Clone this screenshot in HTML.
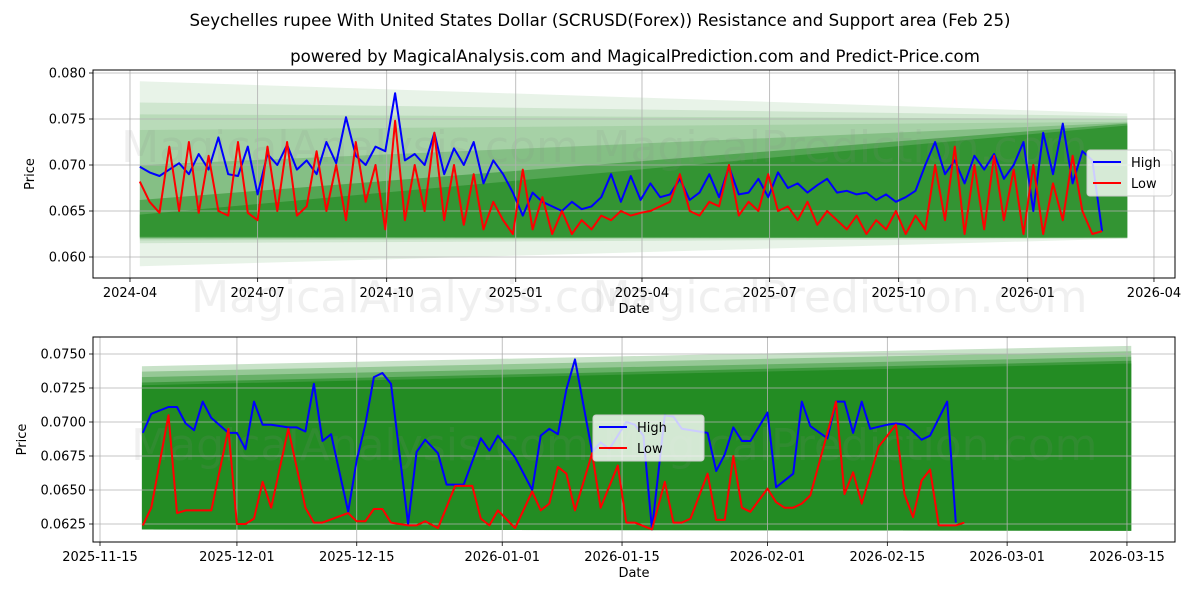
<!DOCTYPE html>
<html><head><meta charset="utf-8"><style>
html,body{margin:0;padding:0;background:#fff;}
svg{display:block;font-family:"DejaVu Sans","Liberation Sans",sans-serif;}
</style></head><body>
<svg id="c" width="1200" height="600" viewBox="0 0 1200 600">
<text x="600" y="26" text-anchor="middle" font-size="16.6">Seychelles rupee With United States Dollar (SCRUSD(Forex)) Resistance and Support area (Feb 25)</text>
<text x="635" y="62" text-anchor="middle" font-size="16.6">powered by MagicalAnalysis.com and MagicalPrediction.com and Predict-Price.com</text>
<g id="top"></g>
<g id="bot"></g>
</svg>
<script>
// ---------- TOP PANEL DATA (weekly samples from 2024-04-08) ----------
const topStartDay = 7; // days after 2024-04-01
const topStepDays = 7;
const topHigh = [0.0698,0.0692,0.0688,0.0695,0.0702,0.0690,0.0712,0.0695,0.0730,0.0690,0.0688,0.0720,0.0668,
0.0712,0.0700,0.0722,0.0695,0.0705,0.0690,0.0725,0.0702,0.0752,0.0710,0.0700,0.0720,0.0715,
0.0778,0.0705,0.0712,0.0700,0.0735,0.0690,0.0718,0.0700,0.0725,0.0680,0.0705,0.0690,0.0670,
0.0645,0.0670,0.0660,0.0655,0.0650,0.0660,0.0652,0.0655,0.0665,0.0690,0.0660,0.0688,0.0662,
0.0680,0.0665,0.0668,0.0685,0.0662,0.0670,0.0690,0.0665,0.0698,0.0668,0.0670,0.0685,0.0665,
0.0692,0.0675,0.0680,0.0670,0.0678,0.0685,0.0670,0.0672,0.0668,0.0670,0.0662,0.0668,0.0660,
0.0665,0.0672,0.0700,0.0725,0.0690,0.0705,0.0680,0.0710,0.0695,0.0712,0.0685,0.0700,0.0725,
0.0650,0.0735,0.0690,0.0745,0.0680,0.0715,0.0705,0.0628];
const topLow = [0.0682,0.0660,0.0648,0.0720,0.0650,0.0725,0.0648,0.0710,0.0650,0.0645,0.0725,0.0648,0.0640,
0.0720,0.0650,0.0725,0.0645,0.0655,0.0715,0.0650,0.0700,0.0640,0.0725,0.0660,0.0700,0.0630,
0.0748,0.0640,0.0700,0.0650,0.0735,0.0640,0.0700,0.0635,0.0690,0.0630,0.0660,0.0640,0.0625,
0.0695,0.0630,0.0665,0.0625,0.0650,0.0625,0.0640,0.0630,0.0645,0.0640,0.0650,0.0645,0.0648,
0.0650,0.0655,0.0660,0.0690,0.0650,0.0645,0.0660,0.0655,0.0700,0.0645,0.0660,0.0650,0.0690,
0.0650,0.0655,0.0640,0.0660,0.0635,0.0650,0.0640,0.0630,0.0645,0.0625,0.0640,0.0630,0.0650,
0.0625,0.0645,0.0630,0.0700,0.0640,0.0720,0.0625,0.0700,0.0630,0.0710,0.0640,0.0695,0.0625,
0.0700,0.0625,0.0680,0.0640,0.0710,0.0650,0.0625,0.0628];
const topBandDays = [7, 711];
const topBandTopStart = [0.0791,0.0768,0.0755,0.0738,0.0700,0.0662,0.0646];
const topBandTopEnd   = [0.0756,0.0753,0.0750,0.0747,0.0746,0.0745,0.0743];
const topBandBotStart = [0.0590,0.0615,0.0618,0.0620,0.0620,0.0621,0.0622];
const topBandBotEnd   = [0.0620,0.0620,0.0621,0.0621,0.0621,0.0621,0.0621];
const topBandAlpha    = [0.1,0.12,0.12,0.12,0.25,0.5,0.65];
const topYTicks = [0.060,0.065,0.070,0.075,0.080];
const topYTickLabels = ["0.060","0.065","0.070","0.075","0.080"];
const topXTicks = [0,91,183,275,365,456,548,640,730];
const topXTickLabels = ["2024-04","2024-07","2024-10","2025-01","2025-04","2025-07","2025-10","2026-01","2026-04"];

// ---------- BOTTOM PANEL DATA (days after 2025-11-15) ----------
const botHighDays = [5,6,8,9,10,11,12,13,15,16,17,18,19,20,22,23,24,25,26,27,29,30,31,32,33,34,36,37,38,39.5,
40.5,42.5,44.5,45.5,46.5,48.5,50.5,51.5,52.5,53.5,54.5,55.5,57.5,58.5,59.5,60.5,61.5,62.5,63.5,64.5,
66,67,68,71,72,73,74,75,76,78,79,81,82,83,85,86,87,88,89,90,92,93,94,95,96,97,99,100];
const botHighVals = [0.0692,0.0706,0.0711,0.0711,0.0699,0.0694,0.0715,0.0703,0.0692,0.0692,0.0680,0.0715,0.0698,0.0698,0.0696,0.0696,0.0693,0.0728,0.0686,0.0691,0.0634,0.0672,0.0698,0.0733,0.0736,0.0728,0.0625,0.0678,0.0687,0.0677,
0.0654,0.0654,0.0688,0.0679,0.0690,0.0674,0.0650,0.0690,0.0695,0.0691,0.0724,0.0746,0.0678,0.0685,0.0680,0.0690,0.0700,0.0698,0.0690,0.0621,
0.0705,0.0704,0.0695,0.0692,0.0664,0.0676,0.0696,0.0686,0.0686,0.0707,0.0652,0.0662,0.0715,0.0697,0.0688,0.0715,0.0715,0.0692,0.0715,0.0695,0.0698,0.0699,0.0698,0.0693,0.0687,0.0690,0.0715,0.0626,0.0680];
const botLowDays = [5,6,8,9,10,13,15,16,17,18,19,20,22,24,25,26,29,30,31,32,33,34,36,37,38,39.5,41.5,43.5,44.5,45.5,
46.5,48.5,50.5,51.5,52.5,53.5,54.5,55.5,57.5,58.5,60.5,61.5,62.5,64.5,
66,67,68,69,71,72,73,74,75,76,78,79,80,81,82,83,86,87,88,89,91,93,94,95,96,97,98,100,101];
const botLowVals = [0.0624,0.0637,0.0705,0.0633,0.0635,0.0635,0.0695,0.0625,0.0625,0.0629,0.0656,0.0637,0.0695,0.0637,0.0626,0.0626,0.0633,0.0627,0.0627,0.0636,0.0636,0.0626,0.0624,0.0624,0.0627,0.0622,0.0653,0.0653,0.0629,0.0624,
0.0635,0.0622,0.0649,0.0635,0.0640,0.0667,0.0662,0.0635,0.0677,0.0637,0.0668,0.0626,0.0626,0.0621,
0.0656,0.0626,0.0626,0.0629,0.0662,0.0628,0.0628,0.0675,0.0637,0.0634,0.0651,0.0641,0.0637,0.0637,0.0640,0.0646,0.0715,0.0647,0.0663,0.0640,0.0682,0.0698,0.0647,0.0630,0.0657,0.0665,0.0624,0.0624,0.0626];
const botBandDays = [4.9, 120.5];
const botBandTopStart = [0.0741,0.0737,0.0733,0.0729,0.0727];
const botBandTopEnd   = [0.0756,0.0752,0.0748,0.0745,0.0743];
const botBandBot = [0.0621, 0.0620];
const botBandAlpha = [0.25,0.3,0.4,0.6,0.95];
const botYTicks = [0.0625,0.0650,0.0675,0.0700,0.0725,0.0750];
const botYTickLabels = ["0.0625","0.0650","0.0675","0.0700","0.0725","0.0750"];
const botXTicks = [0,16,30,47,61,78,92,106,120];
const botXTickLabels = ["2025-11-15","2025-12-01","2025-12-15","2026-01-01","2026-01-15","2026-02-01","2026-02-15","2026-03-01","2026-03-15"];

const NS="http://www.w3.org/2000/svg";
function mk(parent, tag, attrs){const e=document.createElementNS(NS,tag);for(const k in attrs)e.setAttribute(k,attrs[k]);parent.appendChild(e);return e;}

function panel(g, o){
  const {x0,x1,y0,y1,xs,ys}=o;
  o.bands.forEach((b,i)=>{
    const pts=[[xs(b.d0),ys(b.t0)],[xs(b.d1),ys(b.t1)],[xs(b.d1),ys(b.b1)],[xs(b.d0),ys(b.b0)]];
    const p=mk(g,'polygon',{points:pts.map(q=>q.join(',')).join(' '),fill:'#228B22','fill-opacity':b.a});
    
    
  });
  o.marks.forEach(m=>{
    const t=mk(g,'text',{x:m[0],y:m[1],'font-size':m[3],fill:'#888','fill-opacity':0.13,'text-anchor':'middle'});
    t.textContent=m[2];
    
    
  });
  o.yt.forEach((v,i)=>{
    const y=ys(v);
    const l=mk(g,'line',{x1:x0,x2:x1,y1:y,y2:y,stroke:'#b0b0b0','stroke-width':0.8});
    
    
    mk(g,'line',{x1:x0-4,x2:x0,y1:y,y2:y,stroke:'#000','stroke-width':0.8});
    const t=mk(g,'text',{x:x0-7,y:y+4.5,'font-size':13,'text-anchor':'end'});
    t.textContent=o.ytl[i];
    
    
  });
  o.xt.forEach((d,i)=>{
    const x=xs(d);
    const l=mk(g,'line',{x1:x,x2:x,y1:y0,y2:y1,stroke:'#b0b0b0','stroke-width':0.8});
    
    
    mk(g,'line',{x1:x,x2:x,y1:y1,y2:y1+4,stroke:'#000','stroke-width':0.8});
    const t=mk(g,'text',{x:x,y:y1+19,'font-size':13,'text-anchor':'middle'});
    t.textContent=o.xtl[i];
    
    
  });
  o.series.forEach(s=>{
    const d=s.days.map((dd,i)=>(i?'L':'M')+xs(dd).toFixed(1)+','+ys(s.vals[i]).toFixed(1)).join(' ');
    const p=mk(g,'path',{d:d,fill:'none',stroke:s.color,'stroke-width':2,'stroke-linejoin':'round'});
    
    
  });
  const fr=mk(g,'rect',{x:x0,y:y0,width:x1-x0,height:y1-y0,fill:'none',stroke:'#000','stroke-width':1});
  
  
  const xl=mk(g,'text',{x:(x0+x1)/2,y:y1+35,'font-size':13,'text-anchor':'middle'});
  xl.textContent='Date';
  
  
  const yl=mk(g,'text',{x:0,y:0,'font-size':13,'text-anchor':'middle',transform:`translate(${o.ylx},${(y0+y1)/2}) rotate(-90)`});
  yl.textContent='Price';
  
  
  const L=o.legend;
  const lb=mk(g,'rect',{x:L.x,y:L.y,width:L.w,height:46,rx:3,fill:'#fff','fill-opacity':0.8,stroke:'#ccc'});
  
  
  [['High','#0000ff'],['Low','#ff0000']].forEach((e,i)=>{
    const yy=L.y+12+i*21;
    const ln=mk(g,'line',{x1:L.x+6,x2:L.x+34,y1:yy,y2:yy,stroke:e[1],'stroke-width':2});
    
    
    const t=mk(g,'text',{x:L.x+44,y:yy+5,'font-size':13});
    t.textContent=e[0];
    
    
  });
}

const tDays=topHigh.map((_,i)=>topStartDay+i*topStepDays);
panel(document.getElementById('top'),{
  x0:93,x1:1175,y0:70,y1:278,ylx:34,
  xs:d=>130+d*1.4027, ys:v=>257-(v-0.060)/0.005*46,
  yt:topYTicks,ytl:topYTickLabels,xt:topXTicks,xtl:topXTickLabels,
  bands:topBandTopStart.map((t,i)=>({d0:topBandDays[0],d1:topBandDays[1],t0:t,t1:topBandTopEnd[i],b0:topBandBotStart[i],b1:topBandBotEnd[i],a:topBandAlpha[i]})),
  marks:[[350,162,'MagicalAnalysis.com',44],[840,162,'MagicalPrediction.com',44],[420,312,'MagicalAnalysis.com',44],[840,312,'MagicalPrediction.com',44]],
  series:[{name:'high-line',days:tDays,vals:topHigh,color:'#0000ff'},{name:'low-line',days:tDays,vals:topLow,color:'#ff0000'}],
  legend:{x:1087,y:150,w:85}
});
panel(document.getElementById('bot'),{
  x0:93,x1:1175,y0:337,y1:542,ylx:26,
  xs:d=>100+d*8.558, ys:v=>524-(v-0.0625)/0.0025*34,
  yt:botYTicks,ytl:botYTickLabels,xt:botXTicks,xtl:botXTickLabels,
  bands:botBandTopStart.map((t,i)=>({d0:botBandDays[0],d1:botBandDays[1],t0:t,t1:botBandTopEnd[i],b0:botBandBot[0],b1:botBandBot[1],a:botBandAlpha[i]})),
  marks:[[360,460,'MagicalAnalysis.com',44],[850,460,'MagicalPrediction.com',44]],
  series:[{name:'high-line',days:botHighDays,vals:botHighVals,color:'#0000ff'},{name:'low-line',days:botLowDays,vals:botLowVals,color:'#ff0000'}],
  legend:{x:593,y:415,w:111}
});
</script>
</body></html>
